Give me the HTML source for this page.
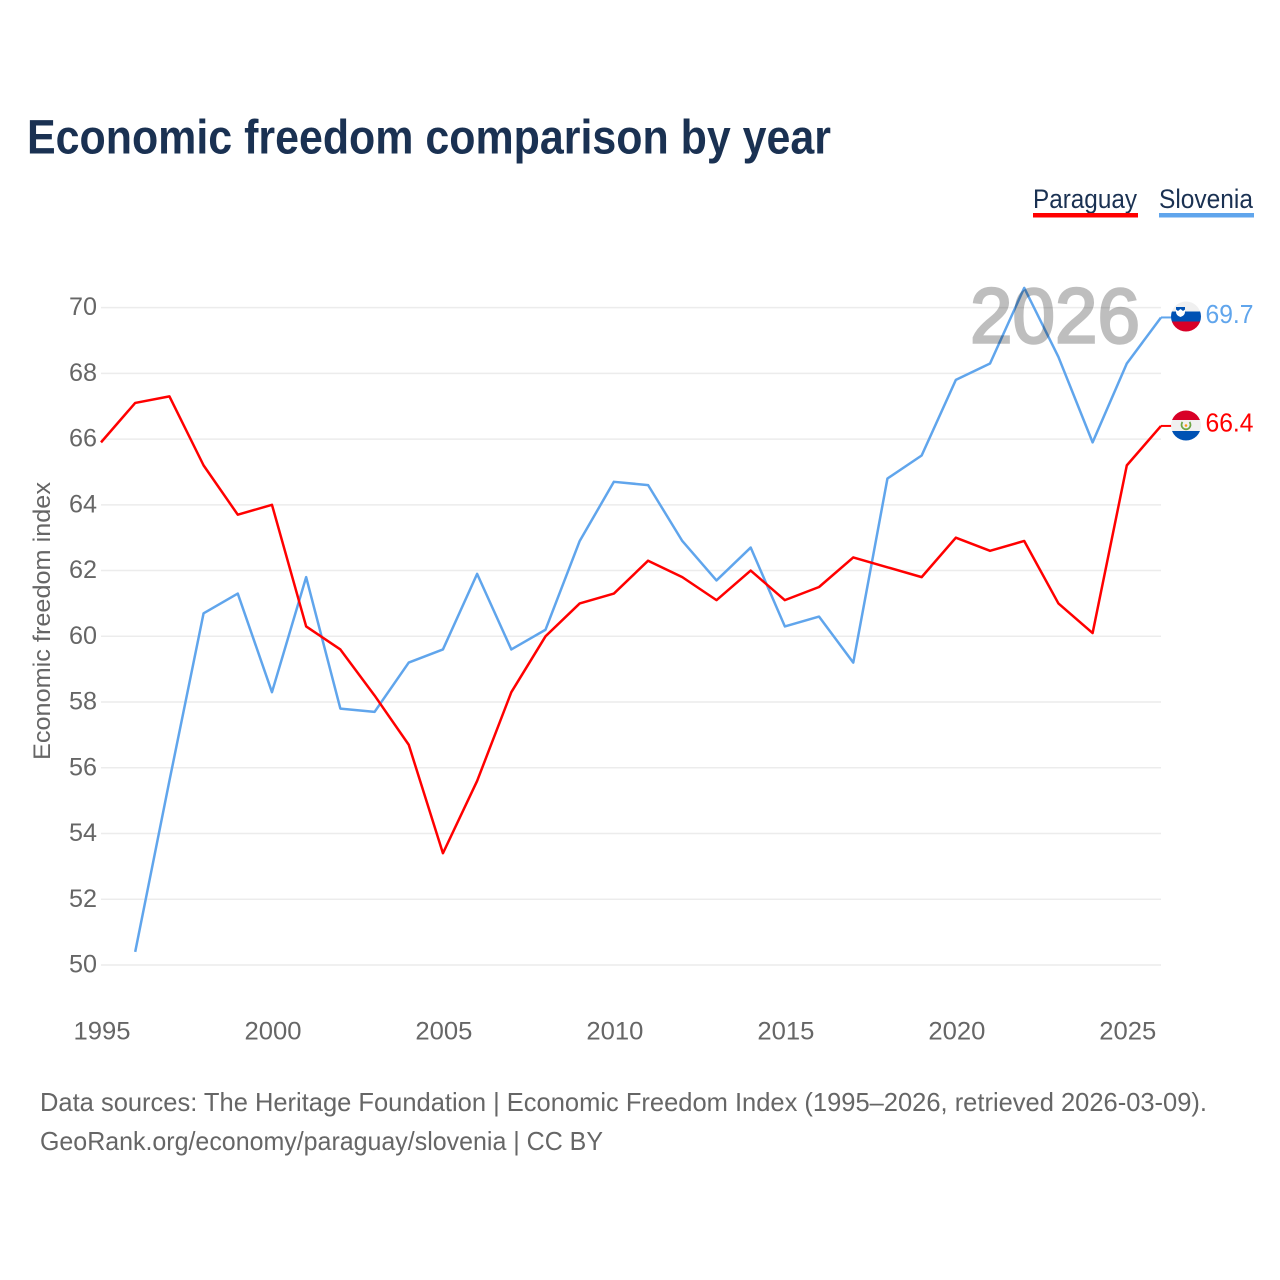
<!DOCTYPE html>
<html lang="en">
<head>
<meta charset="utf-8">
<title>Economic freedom comparison by year</title>
<style>
html,body{margin:0;padding:0;background:#fff;}
svg{display:block;font-family:"Liberation Sans",sans-serif;}
</style>
</head>
<body>
<svg id="chart" width="1280" height="1280" viewBox="0 0 1280 1280" xmlns="http://www.w3.org/2000/svg">
  <defs>
    <clipPath id="flag-clip-si"><circle cx="1186" cy="316.5" r="15"></circle></clipPath>
    <clipPath id="flag-clip-py"><circle cx="1186" cy="425.5" r="15"></circle></clipPath>
  </defs>
  <rect width="1280" height="1280" fill="#ffffff"></rect>
  <text x="27" y="153.5" font-size="48" font-weight="bold" fill="#1a3152" textLength="804" lengthAdjust="spacingAndGlyphs">Economic freedom comparison by year</text>

  <g>
    <g>
      <text x="1033" y="208" font-size="27" fill="#1a3152" textLength="104" lengthAdjust="spacingAndGlyphs">Paraguay</text>
      <rect x="1033" y="213" width="105" height="4.5" fill="#ff0000"></rect>
    </g>
    <g>
      <text x="1159" y="208" font-size="27" fill="#1a3152" textLength="94" lengthAdjust="spacingAndGlyphs">Slovenia</text>
      <rect x="1159" y="213" width="95" height="4.5" fill="#60a5ec"></rect>
    </g>
  </g>

  <g id="grid"></g>
  <g id="y-ticks"></g>
  <g id="x-ticks"></g>
  <text transform="translate(50,621) rotate(-90)" text-anchor="middle" font-size="24" fill="#666666" textLength="278" lengthAdjust="spacingAndGlyphs">Economic freedom index</text>

  <g id="series"></g>

  <text x="970" y="342.5" font-size="78" fill="#000000" stroke="#000000" stroke-width="2.5" opacity="0.25" textLength="170" lengthAdjust="spacingAndGlyphs">2026</text>

  <g clip-path="url(#flag-clip-si)">
    <rect x="1171" y="301" width="30" height="10.5" fill="#f0f0f0"></rect>
    <rect x="1171" y="311.5" width="30" height="10" fill="#0052b4"></rect>
    <rect x="1171" y="321.5" width="30" height="11" fill="#d80027"></rect>
    <path d="M1176 307 h9 v5 q0 3.500 -4.500 5 q-4.500 -1.500 -4.500 -5z" fill="#ffffff"></path>
    <path d="M1176 307 h9 v2.500 l-2 1.500 l-2.500 -2 l-2.500 2 l-2 -1.500z" fill="#0052b4"></path>
  </g>
  <g clip-path="url(#flag-clip-py)">
    <rect x="1171" y="410" width="30" height="10" fill="#d80027"></rect>
    <rect x="1171" y="420" width="30" height="11" fill="#f0f0f0"></rect>
    <rect x="1171" y="431" width="30" height="10" fill="#0052b4"></rect>
    <path d="M1182.500 422 a4.500 4.500 0 1 0 7 0" fill="none" stroke="#6da544" stroke-width="1.8"></path>
    <circle cx="1186" cy="425.500" r="1.300" fill="#ff9811"></circle>
  </g>
  <text id="value-slovenia" x="1205.500" y="323" font-size="26" fill="#60a5ec" textLength="48" lengthAdjust="spacingAndGlyphs"></text>
  <text id="value-paraguay" x="1205.500" y="431.500" font-size="26" fill="#ff0000" textLength="48" lengthAdjust="spacingAndGlyphs"></text>

  <g>
    <text x="40" y="1111" font-size="26" fill="#666666" textLength="1167" lengthAdjust="spacingAndGlyphs">Data sources: The Heritage Foundation | Economic Freedom Index (1995–2026, retrieved 2026-03-09).</text>
    <text x="40" y="1150" font-size="26" fill="#666666" textLength="563" lengthAdjust="spacingAndGlyphs">GeoRank.org/economy/paraguay/slovenia | CC BY</text>
  </g>
</svg>
<script>
const years = [1995,1996,1997,1998,1999,2000,2001,2002,2003,2004,2005,2006,2007,2008,2009,2010,2011,2012,2013,2014,2015,2016,2017,2018,2019,2020,2021,2022,2023,2024,2025,2026];
const paraguayValues = [65.9,67.1,67.3,65.2,63.7,64.0,60.3,59.6,58.2,56.7,53.4,55.6,58.3,60.0,61.0,61.3,62.3,61.8,61.1,62.0,61.1,61.5,62.4,62.1,61.8,63.0,62.6,62.9,61.0,60.1,65.2,66.4];
const sloveniaValues = [null,50.4,55.6,60.7,61.3,58.3,61.8,57.8,57.7,59.2,59.6,61.9,59.6,60.2,62.9,64.7,64.6,62.9,61.7,62.7,60.3,60.6,59.2,64.8,65.5,67.8,68.3,70.6,68.5,65.9,68.3,69.7];
const yTickValues = [50,52,54,56,58,60,62,64,66,68,70];
const xTickValues = [1995,2000,2005,2010,2015,2020,2025];

const NS = 'http://www.w3.org/2000/svg';
const xScale = function (year) { return 101 + (year - 1995) * (1060 / 31); };
const yScale = function (value) { return 965 - (value - 50) * 32.87; };

function make(tag, attrs, parent) {
  const el = document.createElementNS(NS, tag);
  Object.keys(attrs).forEach(function (k) { el.setAttribute(k, attrs[k]); });
  parent.appendChild(el);
  return el;
}

const grid = document.getElementById('grid');
const yTicks = document.getElementById('y-ticks');
yTickValues.forEach(function (v) {
  const line = make('line', {x1: 101, x2: 1161, y1: yScale(v), y2: yScale(v), stroke: '#ececec', 'stroke-width': 1.5}, grid);
  
  
  const label = make('text', {x: 97, y: yScale(v) + 7.5, 'text-anchor': 'end', 'font-size': 25, fill: '#666666', textLength: 28, lengthAdjust: 'spacingAndGlyphs'}, yTicks);
  
  
  label.textContent = v;
});

const xTicks = document.getElementById('x-ticks');
xTickValues.forEach(function (y) {
  const label = make('text', {x: xScale(y) + 1, y: 1039.5, 'text-anchor': 'middle', 'font-size': 25, fill: '#666666', textLength: 57, lengthAdjust: 'spacingAndGlyphs'}, xTicks);
  
  
  label.textContent = y;
});

function buildPath(values) {
  let d = '';
  values.forEach(function (v, i) {
    if (v === null) return;
    d += (d ? 'L' : 'M') + xScale(years[i]).toFixed(2) + ' ' + yScale(v).toFixed(2);
  });
  return d;
}

const series = document.getElementById('series');
const sloveniaPath = make('path', {d: buildPath(sloveniaValues), fill: 'none', stroke: '#60a5ec', 'stroke-width': 2.5, 'stroke-linejoin': 'round'}, series);


const paraguayPath = make('path', {d: buildPath(paraguayValues), fill: 'none', stroke: '#ff0000', 'stroke-width': 2.5, 'stroke-linejoin': 'round'}, series);



const lastSlovenia = sloveniaValues[sloveniaValues.length - 1];
const lastParaguay = paraguayValues[paraguayValues.length - 1];
const sloveniaConnector = make('line', {x1: xScale(2026), x2: 1172, y1: yScale(lastSlovenia), y2: yScale(lastSlovenia), stroke: '#60a5ec', 'stroke-width': 2}, series);


const paraguayConnector = make('line', {x1: xScale(2026), x2: 1172, y1: yScale(lastParaguay), y2: yScale(lastParaguay), stroke: '#ff0000', 'stroke-width': 2}, series);



document.getElementById('value-slovenia').textContent = lastSlovenia.toFixed(1);
document.getElementById('value-paraguay').textContent = lastParaguay.toFixed(1);
</script>
</body>
</html>
